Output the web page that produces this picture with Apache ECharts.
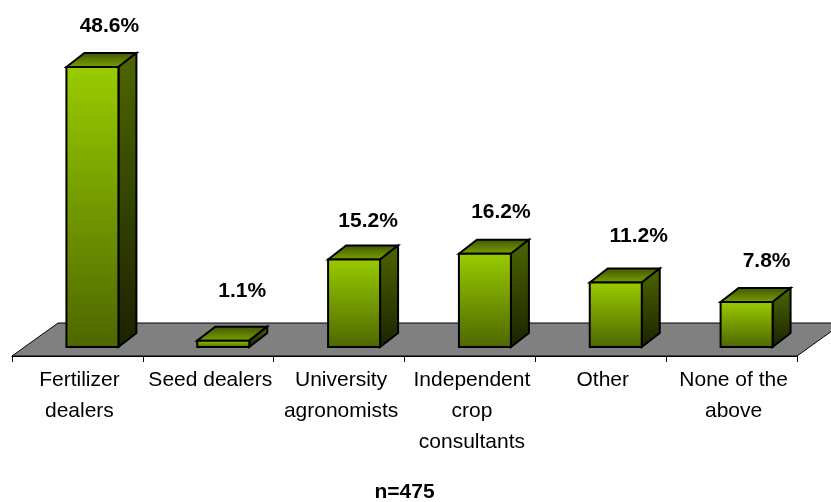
<!DOCTYPE html>
<html><head><meta charset="utf-8">
<style>html,body{margin:0;padding:0;background:#fff}#c{width:831px;height:502px}</style>
<script src="https://cdn.jsdelivr.net/npm/echarts@6/dist/echarts.min.js"></script>
</head><body><div id="c"></div>
<script>
const categories = ['Fertilizer\ndealers','Seed dealers','University\nagronomists','Independent\ncrop\nconsultants','Other','None of the\nabove'];
const shares = [48.6,1.1,15.2,16.2,11.2,7.8];
const sampleNote = 'n=475';

// label placement relative to each bar's front-face centre / back top edge (hand placed in the source)
const labelDx = [17,19,14,16,23,20];
const labelDy = [27,35,24,27,32,27];
const DX = 18, DY = -14, BAR_W = 52, BAR_SHIFT = 15;

const grad = (a,b)=>new echarts.graphic.LinearGradient(0,0,0,1,[{offset:0,color:a},{offset:1,color:b}]);
const chart = echarts.init(document.getElementById('c'),null,{renderer:'canvas'});
const FONT = '"Liberation Sans", Arial, sans-serif';

chart.setOption({
  animation:false,
  backgroundColor:'#fff',
  grid:{left:12,width:785,top:59,height:288},
  graphic:[{type:'text',x:404.5,y:492,z:5,
    style:{text:sampleNote,align:'center',verticalAlign:'middle',font:'bold 21px '+FONT,fill:'#000'}}],
  xAxis:{type:'category',data:categories,offset:9,
    axisLine:{onZero:false,lineStyle:{color:'#000',width:1}},
    axisTick:{show:true,length:6,alignWithLabel:false,lineStyle:{color:'#000'}},
    axisLabel:{interval:0,fontFamily:FONT,fontSize:21,color:'#000',lineHeight:31,margin:9,padding:[0,0,0,4]}},
  yAxis:{type:'value',min:0,max:50,show:false,splitLine:{show:false}},
  series:[
    {type:'custom',z:1,silent:true,data:[0],clip:false,
     renderItem(p,api){
       const g=p.coordSys, yF=g.y+g.height+9, l=g.x, r=g.x+g.width;
       return {type:'polygon',shape:{points:[[l,yF],[l+46,yF-33],[r+46,yF-33],[r,yF]]},
         style:{fill:'#808080',stroke:'#000',lineWidth:1}};
     }},
    {type:'custom',z:3,silent:true,clip:false,
     data:shares.map((v,i)=>[i,v]),
     encode:{x:0,y:1},
     renderItem(p,api){
       const i=api.value(0), v=api.value(1);
       const cx=api.coord([i,0])[0]+BAR_SHIFT, y0=api.coord([i,0])[1], y1=api.coord([i,v])[1];
       const l=cx-BAR_W/2, r=cx+BAR_W/2;
       const stroke={stroke:'#000',lineWidth:2,lineJoin:'miter'};
       return {type:'group',children:[
         {type:'polygon',shape:{points:[[l,y1],[l+DX,y1+DY],[r+DX,y1+DY],[r,y1]]},
          style:{fill:grad('#3f5400','#7aa300'),...stroke}},
         {type:'polygon',shape:{points:[[r,y1],[r+DX,y1+DY],[r+DX,y0+DY],[r,y0]]},
          style:{fill:grad('#4d6600','#1a2200'),...stroke}},
         {type:'rect',shape:{x:l,y:y1,width:BAR_W,height:y0-y1},
          style:{fill:grad('#99cc00','#4d6600'),...stroke}},
         {type:'text',x:cx+labelDx[i],y:y1+DY-labelDy[i],
          style:{text:v.toFixed(1)+'%',align:'center',verticalAlign:'middle',
            font:'bold 21px '+FONT,fill:'#000'}}
       ]};
     }}
  ]
});
</script></body></html>
